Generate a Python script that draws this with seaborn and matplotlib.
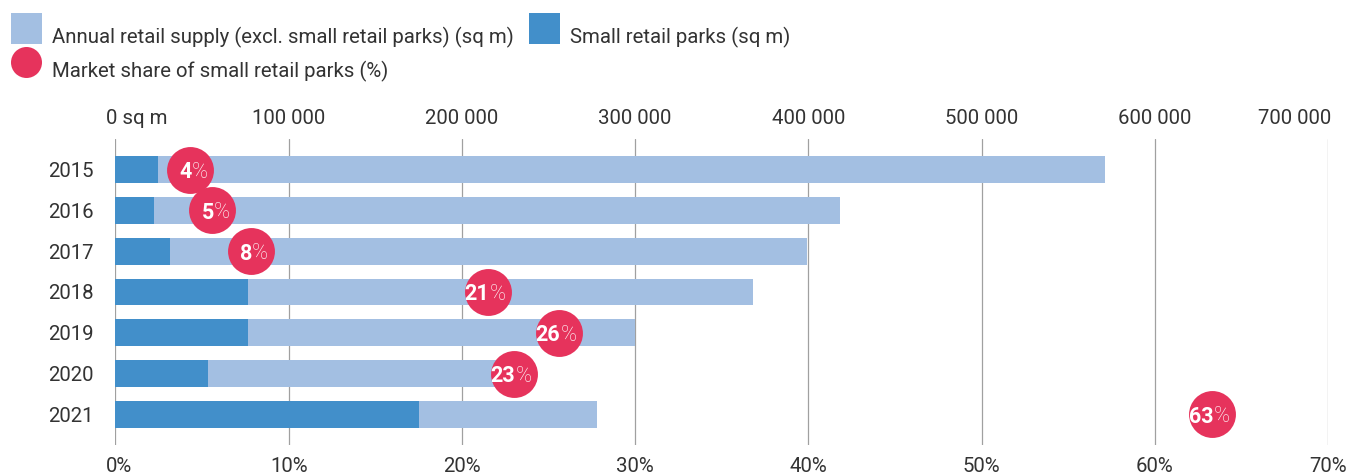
import matplotlib
matplotlib.use("Agg")
import matplotlib.pyplot as plt
from matplotlib.patches import Rectangle, Ellipse
import matplotlib.transforms as mtransforms
import numpy as np
import pandas as pd
import seaborn as sns

# ---- data ----
years = ["2015", "2016", "2017", "2018", "2019", "2020", "2021"]
small_parks = [24500, 22200, 31500, 76500, 76500, 53500, 175000]          # sq m
other_supply = [546500, 396100, 367800, 291500, 223500, 178500, 103000]   # sq m (excl. small parks)
share_pct = [4.3, 5.6, 7.8, 21.5, 25.6, 23.0, 63.3]
share_labels = ["4", "5", "8", "21", "26", "23", "63"]
sqm_ticks = [0, 100000, 200000, 300000, 400000, 500000, 600000, 700000]
sqm_ticklabels = ["0 sq m", "100 000", "200 000", "300 000", "400 000", "500 000", "600 000", "700 000"]
pct_ticks = [0, 10, 20, 30, 40, 50, 60, 70]
pct_ticklabels = ["0%", "10%", "20%", "30%", "40%", "50%", "60%", "70%"]
legend_labels = ["Annual retail supply (excl. small retail parks) (sq m)",
                 "Small retail parks (sq m)",
                 "Market share of small retail parks (%)"]

LIGHT = "#a3bfe2"
DARK = "#428fca"
RED = "#e6335c"
TXT = "#333333"
GRID = "#a0a0a0"

sns.set_theme(style="white")
plt.rcParams["font.family"] = ["Roboto", "DejaVu Sans"]
plt.rcParams["font.weight"] = "normal"

df = pd.DataFrame({"year": years, "small": small_parks, "other": other_supply,
                   "share": share_pct})
df["total"] = df["small"] + df["other"]
df["pos"] = np.arange(len(df))

W, H = 1361, 475
fig = plt.figure(figsize=(W / 100, H / 100), dpi=100)
ax = fig.add_axes([115.5 / W, 1 - 445 / H, (1328 - 115.5) / W, (445 - 139) / H])

sns.barplot(data=df, x="total", y="year", orient="h", color=LIGHT, saturation=1,
            width=0.66, errorbar=None, ax=ax, zorder=2)
sns.barplot(data=df, x="small", y="year", orient="h", color=DARK, saturation=1,
            width=0.66, errorbar=None, ax=ax, zorder=3)
for p in ax.patches:
    p.set_linewidth(0)

ax2 = ax.twiny()

ax.set_xlim(0, 700000)
ax.set_ylim(6.75, -0.75)
ax.set_xticks(sqm_ticks)
ax.set_xticklabels(sqm_ticklabels)
ax.xaxis.tick_top()
ax.xaxis.set_label_position("top")
ax.set_xlabel("")
ax.set_ylabel("")
ax.grid(axis="x", color=GRID, linewidth=0.9)
ax.grid(axis="y", visible=False)
ax.set_axisbelow(True)
for s in ax.spines.values():
    s.set_visible(False)
ax.tick_params(axis="x", length=0, pad=8, labelsize=14.7, labelcolor=TXT)
ax.tick_params(axis="y", length=0, pad=16, labelsize=14.7, labelcolor=TXT)
# first label: "0" sits on the gridline, unit follows; last label ends at the gridline
lbls = ax.get_xticklabels()
lbls[0].set_horizontalalignment("left")
lbls[0].set_transform(lbls[0].get_transform() + mtransforms.ScaledTranslation(-9 / 100, 0, fig.dpi_scale_trans))
lbls[-1].set_horizontalalignment("right")
lbls[-1].set_transform(lbls[-1].get_transform() + mtransforms.ScaledTranslation(3 / 100, 0, fig.dpi_scale_trans))

ax2.set_xlim(0, 70)
sns.scatterplot(data=df, x="share", y="pos", color=RED, s=1140, linewidth=0,
                ax=ax2, zorder=5, legend=False)
ax2.set_ylim(6.75, -0.75)
ax2.set_xticks(pct_ticks)
ax2.set_xticklabels(pct_ticklabels)
ax2.xaxis.tick_bottom()
ax2.xaxis.set_label_position("bottom")
ax2.set_xlabel("")
ax2.set_ylabel("")
ax2.grid(False)
for s in ax2.spines.values():
    s.set_visible(False)
ax2.tick_params(axis="x", length=0, pad=8.5, labelsize=14.7, labelcolor=TXT)
l0 = ax2.get_xticklabels()[0]
l0.set_horizontalalignment("left")
l0.set_transform(l0.get_transform() + mtransforms.ScaledTranslation(-9.5 / 100, 0, fig.dpi_scale_trans))

for xv, yv, lab in zip(df["share"], df["pos"], share_labels):
    ax2.annotate(lab, (xv, yv), xytext=(1, 0), textcoords="offset points",
                 ha="right", va="center_baseline", color="white",
                 fontsize=15.5, fontweight="bold", zorder=6)
    ax2.annotate("%", (xv, yv), xytext=(1, 0), textcoords="offset points",
                 ha="left", va="center_baseline", color="white",
                 fontsize=15.5, fontweight="light", zorder=6)

# ---- legend (figure pixel coordinates, origin top-left) ----
def fx(px):
    return px / W

def fy(py):
    return 1 - py / H

fig.add_artist(Rectangle((fx(11), fy(44)), 31 / W, 31 / H, transform=fig.transFigure,
                         facecolor=LIGHT, edgecolor="none"))
fig.text(fx(52), fy(43), legend_labels[0], fontsize=14.7, color=TXT, va="baseline", ha="left")
fig.add_artist(Rectangle((fx(529), fy(44)), 31 / W, 31 / H, transform=fig.transFigure,
                         facecolor=DARK, edgecolor="none"))
fig.text(fx(570), fy(43), legend_labels[1], fontsize=14.7, color=TXT, va="baseline", ha="left")
fig.add_artist(Ellipse((fx(26.5), fy(62.5)), 31 / W, 31 / H, transform=fig.transFigure,
                       facecolor=RED, edgecolor="none"))
fig.text(fx(52), fy(77), legend_labels[2], fontsize=14.7, color=TXT, va="baseline", ha="left")

fig.savefig("out.png", dpi=100)
